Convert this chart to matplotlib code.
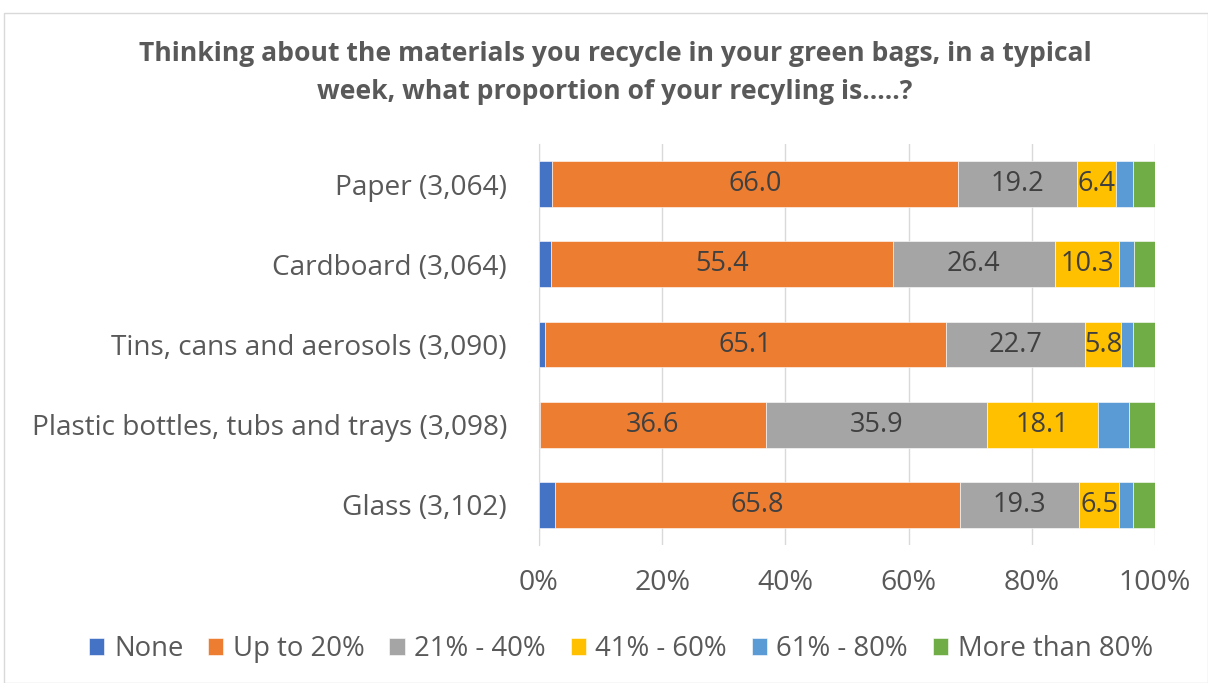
import numpy as np
import matplotlib
matplotlib.use("Agg")
import matplotlib.pyplot as plt
from matplotlib.patches import Rectangle

plt.rcParams['font.family'] = ['Open Sans', 'DejaVu Sans']

# Data (percent of respondents)
categories = ['Paper (3,064)', 'Cardboard (3,064)', 'Tins, cans and aerosols (3,090)',
              'Plastic bottles, tubs and trays (3,098)', 'Glass (3,102)']
series_names = ['None', 'Up to 20%', '21% - 40%', '41% - 60%', '61% - 80%', 'More than 80%']
none_vals = [2.1, 2.0, 0.9, 0.2, 2.6]
upto20 = [66.0, 55.4, 65.1, 36.6, 65.8]
p21_40 = [19.2, 26.4, 22.7, 35.9, 19.3]
p41_60 = [6.4, 10.3, 5.8, 18.1, 6.5]
p61_80 = [2.7, 2.5, 1.9, 5.0, 2.3]
over80 = [3.6, 3.4, 3.6, 4.2, 3.5]
show_labels = [False, True, True, True, False, False]

colors = ['#4472C4', '#ED7D31', '#A5A5A5', '#FFC000', '#5B9BD5', '#70AD47']
series = [none_vals, upto20, p21_40, p41_60, p61_80, over80]

fig = plt.figure(figsize=(12.08, 6.83), dpi=100)
# light chart border
fig.patches.append(Rectangle((4 / 1208, 0), 1 - 4 / 1208, 1 - 13 / 683, transform=fig.transFigure,
                             fill=False, edgecolor='#d9d9d9', linewidth=1))

ax = fig.add_axes([539 / 1208, 1 - 545 / 683, 616 / 1208, 401 / 683])
y = np.arange(len(categories))
left = np.zeros(len(categories))
for vals, name, col, lab in zip(series, series_names, colors, show_labels):
    vals = np.array(vals)
    ax.barh(y, vals, left=left, height=0.57, color=col, label=name,
            edgecolor='white', linewidth=0.4, zorder=3)
    if lab:
        for yi, l, v in zip(y, left, vals):
            ax.text(l + v / 2, yi, f'{v:.1f}', ha='center', va='center',
                    fontsize=19.5, color='#404040', zorder=4)
    left += vals

ax.set_xlim(0, 100)
ax.set_ylim(len(categories) - 0.5, -0.5)
ax.set_yticks(y)
ax.set_yticklabels(categories)
ax.set_xticks(np.arange(0, 101, 20))
ax.set_xticklabels([f'{t}%' for t in range(0, 101, 20)])
ax.tick_params(axis='y', length=0, labelsize=20.2, labelcolor='#595959', pad=23)
ax.tick_params(axis='x', length=0, labelsize=20.5, labelcolor='#595959', pad=17)
ax.grid(axis='x', color='#d9d9d9', linewidth=1, zorder=0)
for s in ['top', 'right', 'bottom']:
    ax.spines[s].set_visible(False)
ax.spines['left'].set_color('#d9d9d9')

fig.text(615 / 1208, 1 - 73 / 683,
         'Thinking about the materials you recycle in your green bags, in a typical\nweek, what proportion of your recyling is.....?',
         ha='center', va='center', fontsize=19.1, fontweight='bold', color='#595959', linespacing=1.6)

fig.legend(loc='center', bbox_to_anchor=(621 / 1208, 1 - 649 / 683), ncol=6, frameon=False,
           fontsize=19.8, labelcolor='#595959', handlelength=0.55, handleheight=0.55,
           handletextpad=0.35, columnspacing=0.9)

fig.savefig('out.png', dpi=100)
